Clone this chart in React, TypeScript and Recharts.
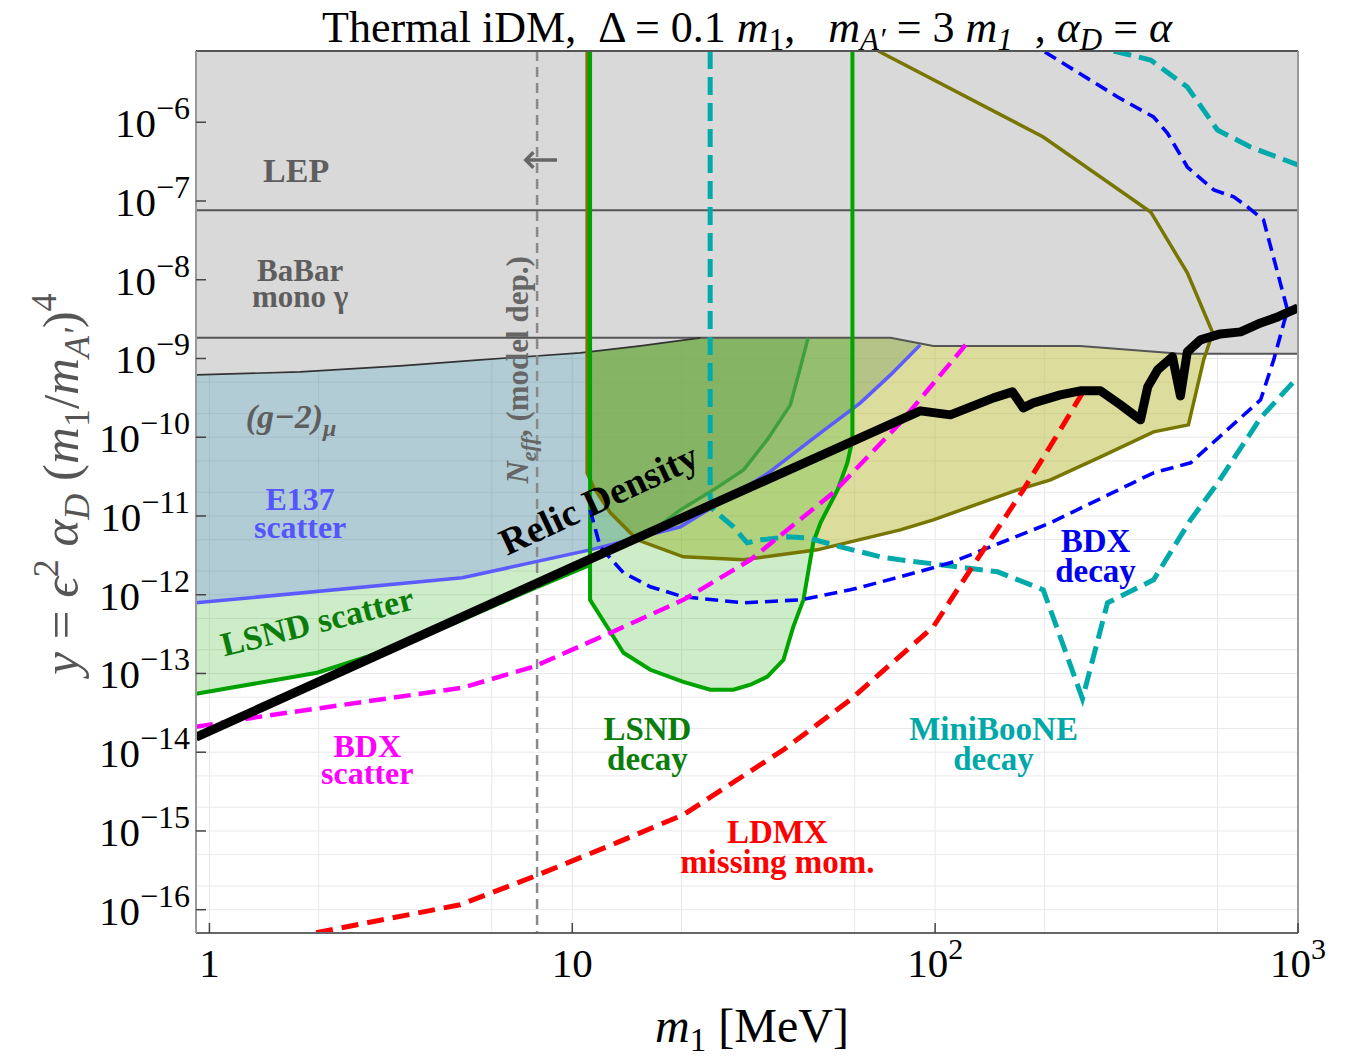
import React from "react";
import {
  ComposedChart,
  Area,
  Line,
  XAxis,
  YAxis,
  CartesianGrid,
  ReferenceLine,
  ReferenceDot,
  Customized,
} from "recharts";

const SERIF = "'Liberation Serif', 'Times New Roman', serif";

// everything is in log10 units: x = log10(m1 / MeV), y = log10(y)
const XMIN = -0.037;
const XMAX = 3;
const YMIN = -16.296;
const YMAX = -5.095;

const xTicks = [0, 1, 2, 3];
const yTicks = [-16, -15, -14, -13, -12, -11, -10, -9, -8, -7, -6];

const nEffMass = 0.903; // 8 MeV

const lepLine = [
  [-0.037, -7.117],
  [3.0, -7.117],
];

const babarLine = [
  [-0.037, -8.738],
  [1.877, -8.738],
  [1.995, -8.84],
  [2.4, -8.84],
  [2.676, -8.941],
  [3.0, -8.941],
];

const g2Line = [
  [-0.037, -9.208],
  [0.25, -9.17],
  [0.526, -9.094],
  [0.746, -9.018],
  [1.022, -8.929],
  [1.188, -8.84],
  [1.353, -8.738],
];

// lower edge of the grey block (LEP + BaBar + g-2)
const greyEdge = [
  [-0.037, -9.208],
  [0.25, -9.17],
  [0.526, -9.094],
  [0.746, -9.018],
  [1.022, -8.929],
  [1.188, -8.84],
  [1.353, -8.738],
  [1.877, -8.738],
  [1.995, -8.84],
  [2.4, -8.84],
  [2.676, -8.941],
  [3.0, -8.941],
];

const e137Line = [
  [-0.037, -12.103],
  [0.697, -11.785],
  [1.049, -11.43],
  [1.298, -11.138],
  [1.537, -10.465],
  [1.684, -9.945],
  [1.794, -9.564],
  [1.877, -9.208],
  [1.959, -8.827],
];

const lsndScatterLine = [
  [-0.037, -13.258],
  [0.297, -12.991],
  [0.435, -12.788],
  [0.664, -12.382],
  [0.885, -11.938],
  [1.049, -11.62],
];

// [x, lower, upper] read at the same masses
const lsndScatterBand = [
  [-0.037, -13.258, -12.103],
  [0.297, -12.991, -11.963],
  [0.435, -12.788, -11.899],
  [0.664, -12.382, -11.823],
  [0.885, -11.938, -11.595],
  [1.049, -11.62, -11.43],
];

const oliveLower = [
  [1.041, -10.452],
  [1.058, -10.63],
  [1.105, -10.96],
  [1.179, -11.303],
  [1.306, -11.519],
  [1.472, -11.557],
  [1.675, -11.43],
  [1.904, -11.176],
  [1.995, -11.049],
  [2.227, -10.668],
  [2.318, -10.541],
  [2.456, -10.249],
  [2.602, -9.932],
  [2.698, -9.843],
  [2.74, -9.018],
  [2.765, -8.675],
];

const oliveUpper = [
  [2.765, -8.675],
  [2.695, -7.913],
  [2.594, -7.139],
  [2.298, -6.187],
  [1.843, -5.095],
];

const lsndDecayLower = [
  [1.049, -12.065],
  [1.096, -12.407],
  [1.141, -12.737],
  [1.215, -12.953],
  [1.306, -13.106],
  [1.38, -13.207],
  [1.444, -13.207],
  [1.491, -13.143],
  [1.537, -13.042],
  [1.582, -12.826],
  [1.609, -12.407],
  [1.637, -12.065],
  [1.664, -11.341],
  [1.684, -11.087],
  [1.731, -10.668],
  [1.758, -10.325],
  [1.772, -10.034],
];

const innerLine = [
  [1.65, -8.738],
  [1.629, -9.107],
  [1.601, -9.589],
  [1.537, -10.034],
  [1.472, -10.414],
  [1.389, -10.668],
  [1.298, -10.922],
  [1.188, -11.303],
];

const innerLower = [
  [1.049, -10.541],
  [1.058, -10.63],
  [1.105, -10.96],
  [1.188, -11.303],
  [1.298, -10.922],
  [1.389, -10.668],
  [1.472, -10.414],
  [1.537, -10.034],
  [1.601, -9.589],
  [1.629, -9.107],
  [1.65, -8.738],
];

const miniBooneLow = [
  [1.38, -5.095],
  [1.38, -10.757],
  [1.389, -10.922],
  [1.444, -11.138],
  [1.482, -11.341],
  [1.518, -11.303],
  [1.593, -11.265],
  [1.648, -11.277],
  [1.739, -11.392],
  [1.849, -11.519],
  [1.904, -11.557],
  [2.172, -11.709],
  [2.298, -11.938],
  [2.406, -13.321],
  [2.475, -12.103],
  [2.602, -11.811],
  [2.704, -11.049],
  [2.779, -10.579],
  [2.897, -9.754],
  [3.0, -9.234],
];

const miniBooneHigh = [
  [2.492, -5.095],
  [2.594, -5.209],
  [2.695, -5.552],
  [2.778, -6.098],
  [2.869, -6.314],
  [3.0, -6.542],
];

const bdxDecay = [
  [1.049, -10.922],
  [1.077, -11.392],
  [1.141, -11.722],
  [1.215, -11.899],
  [1.306, -12.027],
  [1.472, -12.103],
  [1.629, -12.065],
  [1.766, -11.938],
  [1.904, -11.773],
  [2.042, -11.595],
  [2.318, -11.087],
  [2.602, -10.452],
  [2.704, -10.325],
  [2.897, -9.525],
  [2.933, -9.018],
  [2.971, -8.383],
  [2.905, -7.24],
  [2.861, -7.075],
  [2.823, -6.948],
  [2.768, -6.86],
  [2.695, -6.568],
  [2.64, -6.136],
  [2.602, -5.933],
  [2.503, -5.679],
  [2.298, -5.095],
];

const bdxScatter = [
  [-0.037, -13.677],
  [0.12, -13.562],
  [0.697, -13.181],
  [0.893, -12.915],
  [1.105, -12.484],
  [1.306, -12.065],
  [1.491, -11.557],
  [1.719, -10.706],
  [1.904, -9.817],
  [2.084, -8.827],
];

const ldmx = [
  [0.294, -16.292],
  [0.691, -15.937],
  [0.893, -15.581],
  [1.123, -15.149],
  [1.306, -14.794],
  [1.582, -13.969],
  [1.766, -13.334],
  [1.995, -12.407],
  [2.097, -11.684],
  [2.243, -10.668],
  [2.345, -9.906],
  [2.406, -9.437],
];

const relicDensity = [
  [-0.037, -13.81],
  [1.0, -11.65],
  [1.959, -9.665],
  [2.042, -9.716],
  [2.161, -9.5],
  [2.213, -9.424],
  [2.243, -9.627],
  [2.271, -9.564],
  [2.345, -9.462],
  [2.4, -9.411],
  [2.456, -9.411],
  [2.511, -9.589],
  [2.566, -9.779],
  [2.586, -9.36],
  [2.613, -9.145],
  [2.654, -8.979],
  [2.676, -9.475],
  [2.695, -8.916],
  [2.731, -8.764],
  [2.786, -8.688],
  [2.842, -8.662],
  [2.897, -8.548],
  [2.944, -8.472],
  [3.0, -8.358],
];

// the little "←" next to the N_eff line
const arrowStem = [
  [0.958, -6.479],
  [0.872, -6.479],
];
const arrowHead = [
  [0.893, -6.38],
  [0.872, -6.479],
  [0.893, -6.578],
];

// faint log grid (2..9 inside every decade)
const gridX: number[] = [];
for (let n = 0; n < 3; n++) for (let k = 1; k < 10; k++) gridX.push(n + Math.log10(k));
gridX.push(3);
const gridY: number[] = [];
for (let n = -17; n <= -6; n++)
  for (let k = 1; k < 10; k++) {
    const v = n + Math.log10(k);
    if (v > YMIN && v < YMAX) gridY.push(v);
  }

const pts = (a: number[][]) => a.map(([x, y]) => ({ x, y }));
const band = (a: number[][]) => a.map(([x, lo]) => ({ x, r: [lo, YMAX] }));
const band2 = (a: number[][]) => a.map(([x, lo, hi]) => ({ x, r: [lo, hi] }));

const oliveLine = [[1.041, YMAX], ...oliveLower, ...oliveUpper.slice(1)];
const lsndDecayLine = [[1.049, YMAX], ...lsndDecayLower, [1.772, YMAX]];

const YTick = (props: any) => {
  const { x, y, payload } = props;
  return (
    <g>
      <line x1={x + 6} x2={x + 16} y1={y} y2={y} stroke="#444" strokeWidth={1.5} />
      <text x={x} y={y + 15} textAnchor="end" fontFamily={SERIF} fill="#000">
        <tspan fontSize={41}>10</tspan>
        <tspan fontSize={32} dy={-18}>{"\u2212" + -payload.value}</tspan>
      </text>
    </g>
  );
};

const XTick = (props: any) => {
  const { x, y, payload } = props;
  const v = payload.value;
  return (
    <g>
      <line x1={x} x2={x} y1={y - 6} y2={y - 16} stroke="#444" strokeWidth={1.5} />
      <text x={x} y={y + 38} textAnchor="middle" fontFamily={SERIF} fill="#000">
        <tspan fontSize={41}>{v === 0 ? "1" : "10"}</tspan>
        {v > 1 && (
          <tspan fontSize={30} dy={-18}>
            {String(v)}
          </tspan>
        )}
      </text>
    </g>
  );
};

const label = (lines: string[], color: string, size = 34, gap = 30, angle = 0) => (p: any) => {
  const { cx, cy } = p;
  return (
    <text
      x={cx}
      y={cy}
      textAnchor="middle"
      fontFamily={SERIF}
      fontWeight="bold"
      fontSize={size}
      fill={color}
      transform={angle ? `rotate(${angle} ${cx} ${cy})` : undefined}
    >
      {lines.map((l, i) => (
        <tspan key={i} x={cx} dy={i === 0 ? 0 : gap}>
          {l}
        </tspan>
      ))}
    </text>
  );
};

const Texts = () => (
  <g fontFamily={SERIF}>
    <text x={322} y={42} fontSize={44} fill="#000" xmlSpace="preserve" style={{ whiteSpace: "pre" }}>
      <tspan>{"Thermal iDM,  \u0394 = 0.1 "}</tspan>
      <tspan fontStyle="italic">m</tspan>
      <tspan fontSize={31} dy={8}>1</tspan>
      <tspan dy={-8}>{",   "}</tspan>
      <tspan fontStyle="italic">m</tspan>
      <tspan fontSize={31} dy={8} fontStyle="italic">{"A\u2032"}</tspan>
      <tspan dy={-8}>{" = 3 "}</tspan>
      <tspan fontStyle="italic">m</tspan>
      <tspan fontSize={31} dy={8} fontStyle="italic">1</tspan>
      <tspan dy={-8}>{"  , "}</tspan>
      <tspan fontStyle="italic">{"\u03b1"}</tspan>
      <tspan fontSize={31} dy={8} fontStyle="italic">D</tspan>
      <tspan dy={-8}>{" = "}</tspan>
      <tspan fontStyle="italic">{"\u03b1"}</tspan>
    </text>
    <text x={752} y={1042} textAnchor="middle" fontSize={48} fill="#000" xmlSpace="preserve" style={{ whiteSpace: "pre" }}>
      <tspan fontStyle="italic">m</tspan>
      <tspan fontSize={33} dy={9}>1</tspan>
      <tspan dy={-9}>{" [MeV]"}</tspan>
    </text>
    <text
      x={78}
      y={484}
      textAnchor="middle"
      fontSize={51}
      fill="#555"
      transform="rotate(-90 78 484)"
      xmlSpace="preserve"
      style={{ whiteSpace: "pre" }}
    >
      <tspan fontStyle="italic">y</tspan>
      <tspan>{" = "}</tspan>
      <tspan fontStyle="italic">{"\u03f5"}</tspan>
      <tspan fontSize={36} dy={-20}>2</tspan>
      <tspan dy={20}> </tspan>
      <tspan fontStyle="italic">{"\u03b1"}</tspan>
      <tspan fontSize={36} dy={11} fontStyle="italic">D</tspan>
      <tspan dy={-11}>{" ("}</tspan>
      <tspan fontStyle="italic">m</tspan>
      <tspan fontSize={36} dy={11}>1</tspan>
      <tspan dy={-11}>/</tspan>
      <tspan fontStyle="italic">m</tspan>
      <tspan fontSize={36} dy={11} fontStyle="italic">{"A'"}</tspan>
      <tspan dy={-11}>)</tspan>
      <tspan fontSize={36} dy={-22}>4</tspan>
    </text>
  </g>
);

const lineProps = { type: "linear" as const, dataKey: "y", dot: false, activeDot: false, isAnimationActive: false, legendType: "none" as const };
const areaProps = { type: "linear" as const, dataKey: "r", dot: false, activeDot: false, isAnimationActive: false, legendType: "none" as const, stroke: "none" };

export default function App() {
  return (
    <div style={{ position: "absolute", left: 0, top: 0, width: 1353, height: 1058, background: "#fff" }}>
      <ComposedChart width={1353} height={1058} margin={{ top: 51, right: 55, bottom: 25, left: 6 }}>
        <CartesianGrid horizontalValues={gridY} verticalValues={gridX} stroke="#e9e9e9" strokeWidth={1} />
        <XAxis
          dataKey="x"
          type="number"
          domain={[XMIN, XMAX]}
          allowDataOverflow
          ticks={xTicks}
          tick={(p: any) => <XTick {...p} />}
          tickLine={false}
          tickSize={6}
          tickMargin={0}
          height={100}
          axisLine={{ stroke: "#666", strokeWidth: 2 }}
        />
        <YAxis
          type="number"
          domain={[YMIN, YMAX]}
          allowDataOverflow
          ticks={yTicks}
          tick={(p: any) => <YTick {...p} />}
          tickLine={false}
          tickSize={6}
          tickMargin={0}
          width={190}
          axisLine={{ stroke: "#999", strokeWidth: 2 }}
        />

        {/* filled regions, back to front */}
        <Area {...areaProps} data={band(e137Line)} fill="#3d7f95" fillOpacity={0.4} />
        <Area {...areaProps} data={band2(lsndScatterBand)} fill="#37b323" fillOpacity={0.25} />
        <Area {...areaProps} data={band(oliveLower)} fill="#b9b939" fillOpacity={0.5} />
        <Area {...areaProps} data={band(lsndDecayLower)} fill="#37b323" fillOpacity={0.25} />
        <Area {...areaProps} data={band(innerLower)} fill="#2e7d32" fillOpacity={0.15} />
        <Area {...areaProps} data={band(greyEdge)} fill="#d9d9d9" fillOpacity={1} />

        {/* boundaries */}
        <Line {...lineProps} data={pts(lepLine)} stroke="#555" strokeWidth={2} />
        <Line {...lineProps} data={pts(babarLine)} stroke="#555" strokeWidth={2} />
        <Line {...lineProps} data={pts(g2Line)} stroke="#333" strokeWidth={1.6} />
        <Line {...lineProps} data={pts(e137Line)} stroke="#5b5bff" strokeWidth={3.5} />
        <Line {...lineProps} data={pts(lsndScatterLine)} stroke="#00a000" strokeWidth={4} />
        <Line {...lineProps} data={pts(oliveLine)} stroke="#767600" strokeWidth={3.5} />
        <Line {...lineProps} data={pts(innerLine)} stroke="#3f9f3f" strokeWidth={3.5} />
        <Line {...lineProps} data={pts(lsndDecayLine)} stroke="#00a400" strokeWidth={4} />
        <Line {...lineProps} data={pts([[nEffMass, YMAX], [nEffMass, YMIN]])} stroke="#8a8a8a" strokeWidth={2.5} strokeDasharray="10 6" />
        <Line {...lineProps} data={pts(arrowStem)} stroke="#666" strokeWidth={3.5} />
        <Line {...lineProps} data={pts(arrowHead)} stroke="#666" strokeWidth={3.5} strokeLinejoin="miter" />
        <Line {...lineProps} data={pts(miniBooneLow)} stroke="#00aaaa" strokeWidth={5} strokeDasharray="18 8" />
        <Line {...lineProps} data={pts(miniBooneHigh)} stroke="#00aaaa" strokeWidth={5} strokeDasharray="18 8" />
        <Line {...lineProps} data={pts(bdxDecay)} stroke="#0000ff" strokeWidth={3.6} strokeDasharray="13 7" />
        <Line {...lineProps} data={pts(bdxScatter)} stroke="#ff00ff" strokeWidth={4.5} strokeDasharray="17 8" />
        <Line {...lineProps} data={pts(ldmx)} stroke="#ff0000" strokeWidth={5} strokeDasharray="17 9" />
        <Line {...lineProps} data={pts(relicDensity)} stroke="#000" strokeWidth={9} strokeLinejoin="round" />

        <ReferenceLine y={YMAX} stroke="#555" strokeWidth={2} />
        <ReferenceLine x={XMAX} stroke="#999" strokeWidth={2} />

        {/* annotations */}
        <ReferenceDot x={0.239} y={-6.758} r={0} shape={label(["LEP"], "#5e5e5e")} />
        <ReferenceDot x={0.25} y={-8.015} r={0} shape={label(["BaBar", "mono \u03b3"], "#5e5e5e", 31, 26)} />
        <ReferenceDot
          x={0.225}
          y={-9.881}
          r={0}
          shape={(p: any) => (
            <text x={p.cx} y={p.cy} textAnchor="middle" fontFamily={SERIF} fontWeight="bold" fontStyle="italic" fontSize={34} fill="#5e5e5e">
              <tspan>{"(g\u22122)"}</tspan>
              <tspan fontSize={24} dy={8}>{"\u03bc"}</tspan>
            </text>
          )}
        />
        <ReferenceDot x={0.25} y={-10.922} r={0} shape={label(["E137", "scatter"], "#5555ff", 32, 28)} />
        <ReferenceDot x={0.305} y={-12.483} r={0} shape={label(["LSND scatter"], "#0b7d0b", 34, 0, -14)} />
        <ReferenceDot x={1.088} y={-10.935} r={0} shape={label(["Relic Density"], "#000", 38, 0, -25)} />
        <ReferenceDot x={0.435} y={-14.058} r={0} shape={label(["BDX", "scatter"], "#ff00ff", 32, 27)} />
        <ReferenceDot x={1.207} y={-13.842} r={0} shape={label(["LSND", "decay"], "#0b7d0b", 33, 30)} />
        <ReferenceDot x={1.565} y={-15.149} r={0} shape={label(["LDMX", "missing mom."], "#ff0000", 33, 30)} />
        <ReferenceDot x={2.161} y={-13.842} r={0} shape={label(["MiniBooNE", "decay"], "#00a8a8", 33, 30)} />
        <ReferenceDot x={2.442} y={-11.455} r={0} shape={label(["BDX", "decay"], "#0000ee", 33, 30)} />
        <ReferenceDot
          x={0.879}
          y={-9.145}
          r={0}
          shape={(p: any) => (
            <text
              x={p.cx}
              y={p.cy}
              textAnchor="middle"
              fontFamily={SERIF}
              fontWeight="bold"
              fontSize={31}
              fill="#666"
              transform={`rotate(-90 ${p.cx} ${p.cy})`}
            >
              <tspan fontStyle="italic">N</tspan>
              <tspan fontSize={22} dy={8} fontStyle="italic">eff</tspan>
              <tspan dy={-8}>, (model dep.)</tspan>
            </text>
          )}
        />

        <Customized component={<Texts />} />
      </ComposedChart>
    </div>
  );
}
